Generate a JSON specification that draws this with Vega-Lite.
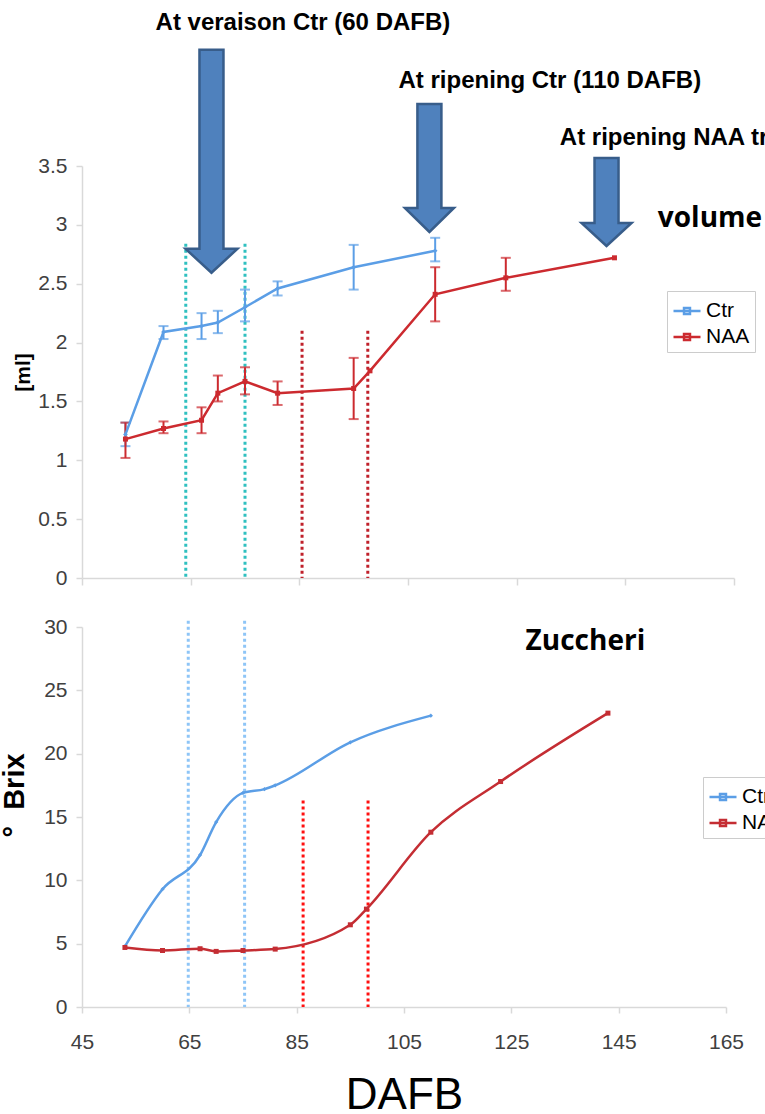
{
  "$schema": "https://vega.github.io/schema/vega-lite/v6.json",
  "background": "white",
  "padding": {"left": 0, "top": 10, "right": 0, "bottom": 0},
  "config": {
    "view": {"stroke": null},
    "font": "Liberation Sans",
    "axis": {"grid": false, "domainColor": "#d9d9d9", "domainWidth": 1.5, "tickColor": "#d9d9d9", "tickWidth": 1.5, "tickSize": 6, "labelColor": "#404040", "labelFont": "Liberation Sans", "labelFontSize": 21, "labelFlush": false, "titleColor": "#000000", "titleFont": "Liberation Sans"}
  },
  "datasets": {
    "vol": [
      {"DAFB": 53, "series": "Ctr", "value": 1.22, "lo": 1.12, "hi": 1.32},
      {"DAFB": 60, "series": "Ctr", "value": 2.09, "lo": 2.03, "hi": 2.14},
      {"DAFB": 67, "series": "Ctr", "value": 2.14, "lo": 2.03, "hi": 2.25},
      {"DAFB": 70, "series": "Ctr", "value": 2.17, "lo": 2.08, "hi": 2.27},
      {"DAFB": 75, "series": "Ctr", "value": 2.30, "lo": 2.18, "hi": 2.45},
      {"DAFB": 81, "series": "Ctr", "value": 2.46, "lo": 2.40, "hi": 2.52},
      {"DAFB": 95, "series": "Ctr", "value": 2.64, "lo": 2.45, "hi": 2.83},
      {"DAFB": 110, "series": "Ctr", "value": 2.78, "lo": 2.69, "hi": 2.89},
      {"DAFB": 53, "series": "NAA", "value": 1.18, "lo": 1.02, "hi": 1.32},
      {"DAFB": 60, "series": "NAA", "value": 1.27, "lo": 1.23, "hi": 1.33},
      {"DAFB": 67, "series": "NAA", "value": 1.34, "lo": 1.23, "hi": 1.45},
      {"DAFB": 70, "series": "NAA", "value": 1.57, "lo": 1.50, "hi": 1.72},
      {"DAFB": 75, "series": "NAA", "value": 1.67, "lo": 1.56, "hi": 1.79},
      {"DAFB": 81, "series": "NAA", "value": 1.57, "lo": 1.47, "hi": 1.67},
      {"DAFB": 95, "series": "NAA", "value": 1.61, "lo": 1.35, "hi": 1.87},
      {"DAFB": 98, "series": "NAA", "value": 1.76},
      {"DAFB": 110, "series": "NAA", "value": 2.41, "lo": 2.18, "hi": 2.64},
      {"DAFB": 123, "series": "NAA", "value": 2.55, "lo": 2.44, "hi": 2.72},
      {"DAFB": 143, "series": "NAA", "value": 2.72}
    ],
    "brix": [
      {"DAFB": 53, "series": "Ctr", "value": 4.78},
      {"DAFB": 60, "series": "Ctr", "value": 9.3},
      {"DAFB": 67, "series": "Ctr", "value": 12.0},
      {"DAFB": 70, "series": "Ctr", "value": 14.6},
      {"DAFB": 75, "series": "Ctr", "value": 16.9},
      {"DAFB": 79, "series": "Ctr", "value": 17.2},
      {"DAFB": 81, "series": "Ctr", "value": 17.5},
      {"DAFB": 95, "series": "Ctr", "value": 20.9},
      {"DAFB": 110, "series": "Ctr", "value": 23.0},
      {"DAFB": 53, "series": "NAA", "value": 4.7},
      {"DAFB": 60, "series": "NAA", "value": 4.46},
      {"DAFB": 67, "series": "NAA", "value": 4.6},
      {"DAFB": 70, "series": "NAA", "value": 4.39},
      {"DAFB": 75, "series": "NAA", "value": 4.46},
      {"DAFB": 81, "series": "NAA", "value": 4.57},
      {"DAFB": 95, "series": "NAA", "value": 6.49},
      {"DAFB": 98, "series": "NAA", "value": 7.73},
      {"DAFB": 110, "series": "NAA", "value": 13.8},
      {"DAFB": 123, "series": "NAA", "value": 17.8},
      {"DAFB": 143, "series": "NAA", "value": 23.2}
    ],
    "vtop": [
      {"DAFB": 64.1, "value": 2.84, "phase": "Ctr"},
      {"DAFB": 75.0, "value": 2.84, "phase": "Ctr"},
      {"DAFB": 85.5, "value": 2.1, "phase": "NAA"},
      {"DAFB": 97.6, "value": 2.1, "phase": "NAA"}
    ],
    "vbot": [
      {"DAFB": 64.8, "value": 30.5, "phase": "Ctr"},
      {"DAFB": 75.3, "value": 30.5, "phase": "Ctr"},
      {"DAFB": 86.2, "value": 16.3, "phase": "NAA"},
      {"DAFB": 98.3, "value": 16.3, "phase": "NAA"}
    ],
    "arrows": [
      {"arrow": "veraison", "DAFB": 68.83, "value": 2.593},
      {"arrow": "ripeCtr", "DAFB": 108.94, "value": 2.940},
      {"arrow": "ripeNAA", "DAFB": 141.54, "value": 2.821}
    ],
    "notes_top": [
      {"label": "At veraison Ctr (60 DAFB)", "DAFB": 85.66, "value": 4.715, "kind": "center"},
      {"label": "At ripening Ctr (110 DAFB)", "DAFB": 131.1, "value": 4.223, "kind": "center"},
      {"label": "At ripening NAA treated (145 DAFB)", "DAFB": 132.95, "value": 3.738, "kind": "left"},
      {"label": "volume", "DAFB": 150.98, "value": 3.05, "kind": "title"}
    ],
    "notes_bot": [
      {"label": "Zuccheri", "DAFB": 138.8, "value": 28.8}
    ]
  },
  "spacing": 28,
  "resolve": {
    "scale": {"x": "independent", "y": "independent", "color": "independent"},
    "legend": {"color": "independent"}
  },
  "vconcat": [
    {
      "width": 652,
      "height": 412,
      "encoding": {
        "x": {"field": "DAFB", "type": "quantitative", "scale": {"domain": [45, 165], "nice": false, "zero": false}, "axis": {"values": [45, 65, 85, 105, 125, 145, 165], "labels": false, "title": null, "tickSize": 7}},
        "y": {"field": "value", "type": "quantitative", "scale": {"domain": [0, 3.5], "nice": false, "zero": true}, "axis": {"values": [0, 0.5, 1, 1.5, 2, 2.5, 3, 3.5], "format": "~f", "title": "[ml]", "titleFontSize": 21, "titleFontWeight": "bold", "titlePadding": 4, "labelPadding": 9}}
      },
      "layer": [
        {
          "data": {"name": "vtop"},
          "transform": [{"filter": "datum.phase == 'Ctr'"}],
          "mark": {"type": "rule", "color": "#2fc0c0", "strokeWidth": 3, "strokeDash": [3, 3]},
          "encoding": {"y2": {"datum": 0}}
        },
        {
          "data": {"name": "vtop"},
          "transform": [{"filter": "datum.phase == 'NAA'"}],
          "mark": {"type": "rule", "color": "#c0202a", "strokeWidth": 3, "strokeDash": [3, 3]},
          "encoding": {"y2": {"datum": 0}}
        },
        {
          "data": {"name": "vol"},
          "transform": [{"filter": "isValid(datum.lo) && datum.series == 'Ctr'"}],
          "mark": {"type": "errorbar", "ticks": true, "thickness": 2, "size": 10, "color": "#5b9ee6"},
          "encoding": {
            "y": {"field": "lo", "type": "quantitative", "scale": {"domain": [0, 3.5], "nice": false, "zero": true}, "axis": {"values": [0, 0.5, 1, 1.5, 2, 2.5, 3, 3.5], "format": "~f", "title": "[ml]", "titleFontSize": 21, "titleFontWeight": "bold", "titlePadding": 4, "labelPadding": 9}},
            "y2": {"field": "hi"}
          }
        },
        {
          "data": {"name": "vol"},
          "transform": [{"filter": "isValid(datum.lo) && datum.series == 'NAA'"}],
          "mark": {"type": "errorbar", "ticks": true, "thickness": 2, "size": 10, "color": "#cc2a2f"},
          "encoding": {
            "y": {"field": "lo", "type": "quantitative", "scale": {"domain": [0, 3.5], "nice": false, "zero": true}, "axis": {"values": [0, 0.5, 1, 1.5, 2, 2.5, 3, 3.5], "format": "~f", "title": "[ml]", "titleFontSize": 21, "titleFontWeight": "bold", "titlePadding": 4, "labelPadding": 9}},
            "y2": {"field": "hi"}
          }
        },
        {
          "data": {"name": "vol"},
          "mark": {"type": "line", "strokeWidth": 2.5},
          "encoding": {
            "color": {"field": "series", "type": "nominal", "scale": {"domain": ["Ctr", "NAA"], "range": ["#5b9ee6", "#cc2a2f"]},
              "legend": {"orient": "none", "legendX": 585, "legendY": 125, "title": null, "symbolType": "M -1 0 L 1 0 M -0.22 -0.22 L 0.22 -0.22 L 0.22 0.22 L -0.22 0.22 Z", "symbolSize": 729, "symbolStrokeWidth": 2.5, "labelFontSize": 21, "labelFont": "Liberation Sans", "labelColor": "#000000", "strokeColor": "#cccccc", "fillColor": "#ffffff", "padding": 5, "rowPadding": 1, "labelOffset": 4}}
          }
        },
        {
          "data": {"name": "vol"},
          "transform": [{"filter": "datum.series == 'Ctr'"}],
          "mark": {"type": "point", "filled": true, "opacity": 1, "size": 22, "shape": "diamond", "color": "#5b9ee6"}
        },
        {
          "data": {"name": "vol"},
          "transform": [{"filter": "datum.series == 'NAA'"}],
          "mark": {"type": "point", "filled": true, "opacity": 1, "size": 25, "shape": "square", "color": "#cc2a2f"}
        },
        {
          "data": {"name": "arrows"},
          "transform": [{"filter": "datum.arrow == 'veraison'"}],
          "mark": {"type": "point", "shape": "M -1.2 -22.3 L 1.2 -22.3 L 1.2 -2.4 L 2.6 -2.4 L 0 0 L -2.6 -2.4 L -1.2 -2.4 Z", "size": 400, "filled": true, "fill": "#4f81bd", "stroke": "#385d8a", "strokeWidth": 2.5, "opacity": 1}
        },
        {
          "data": {"name": "arrows"},
          "transform": [{"filter": "datum.arrow == 'ripeCtr'"}],
          "mark": {"type": "point", "shape": "M -1.2 -12.8 L 1.2 -12.8 L 1.2 -2.4 L 2.45 -2.4 L 0 0 L -2.45 -2.4 L -1.2 -2.4 Z", "size": 400, "filled": true, "fill": "#4f81bd", "stroke": "#385d8a", "strokeWidth": 2.5, "opacity": 1}
        },
        {
          "data": {"name": "arrows"},
          "transform": [{"filter": "datum.arrow == 'ripeNAA'"}],
          "mark": {"type": "point", "shape": "M -1.2 -8.8 L 1.2 -8.8 L 1.2 -2.3 L 2.5 -2.3 L 0 0 L -2.5 -2.3 L -1.2 -2.3 Z", "size": 400, "filled": true, "fill": "#4f81bd", "stroke": "#385d8a", "strokeWidth": 2.5, "opacity": 1}
        },
        {
          "data": {"name": "notes_top"},
          "transform": [{"filter": "datum.kind == 'center'"}],
          "mark": {"type": "text", "font": "Liberation Sans", "fontWeight": "bold", "fontSize": 24, "align": "center", "baseline": "middle", "color": "#000000"},
          "encoding": {"text": {"field": "label"}}
        },
        {
          "data": {"name": "notes_top"},
          "transform": [{"filter": "datum.kind == 'left'"}],
          "mark": {"type": "text", "font": "Liberation Sans", "fontWeight": "bold", "fontSize": 24, "align": "left", "baseline": "middle", "color": "#000000", "limit": 210, "ellipsis": "\u200b"},
          "encoding": {"text": {"field": "label"}}
        },
        {
          "data": {"name": "notes_top"},
          "transform": [{"filter": "datum.kind == 'title'"}],
          "mark": {"type": "text", "font": "Open Sans", "fontWeight": "bold", "fontSize": 28, "align": "left", "baseline": "middle", "color": "#000000"},
          "encoding": {"text": {"field": "label"}}
        }
      ]
    },
    {
      "width": 644,
      "height": 380,
      "encoding": {
        "x": {"field": "DAFB", "type": "quantitative", "scale": {"domain": [45, 165], "nice": false, "zero": false}, "axis": {"values": [45, 65, 85, 105, 125, 145, 165], "title": "DAFB", "titleFontSize": 44, "titleFontWeight": "normal", "titlePadding": 21, "labelPadding": 18, "tickSize": 6}},
        "y": {"field": "value", "type": "quantitative", "scale": {"domain": [0, 30], "nice": false, "zero": true}, "axis": {"values": [0, 5, 10, 15, 20, 25, 30], "title": "°\u00a0\u00a0Brix", "titleFontSize": 29, "titleFontWeight": "bold", "titlePadding": 14, "titleY": 168, "labelPadding": 9}}
      },
      "layer": [
        {
          "data": {"name": "vbot"},
          "transform": [{"filter": "datum.phase == 'Ctr'"}],
          "mark": {"type": "rule", "color": "#8ec5f7", "strokeWidth": 3, "strokeDash": [3, 3]},
          "encoding": {"y2": {"datum": 0}}
        },
        {
          "data": {"name": "vbot"},
          "transform": [{"filter": "datum.phase == 'NAA'"}],
          "mark": {"type": "rule", "color": "#ff1010", "strokeWidth": 3, "strokeDash": [3, 3]},
          "encoding": {"y2": {"datum": 0}}
        },
        {
          "data": {"name": "brix"},
          "mark": {"type": "line", "strokeWidth": 2.5, "interpolate": "monotone"},
          "encoding": {
            "color": {"field": "series", "type": "nominal", "scale": {"domain": ["Ctr", "NAA"], "range": ["#5b9ee6", "#c42d33"]},
              "legend": {"orient": "none", "legendX": 621, "legendY": 150, "title": null, "symbolType": "M -1 0 L 1 0 M -0.22 -0.22 L 0.22 -0.22 L 0.22 0.22 L -0.22 0.22 Z", "symbolSize": 729, "symbolStrokeWidth": 2.5, "labelFontSize": 21, "labelFont": "Liberation Sans", "labelColor": "#000000", "strokeColor": "#cccccc", "fillColor": "#ffffff", "padding": 5, "rowPadding": 1, "labelOffset": 4}}
          }
        },
        {
          "data": {"name": "brix"},
          "transform": [{"filter": "datum.series == 'Ctr'"}],
          "mark": {"type": "point", "filled": true, "opacity": 1, "size": 18, "shape": "diamond", "color": "#5b9ee6"}
        },
        {
          "data": {"name": "brix"},
          "transform": [{"filter": "datum.series == 'NAA'"}],
          "mark": {"type": "point", "filled": true, "opacity": 1, "size": 25, "shape": "square", "color": "#c42d33"}
        },
        {
          "data": {"name": "notes_bot"},
          "mark": {"type": "text", "font": "Open Sans", "fontWeight": "bold", "fontSize": 28, "align": "center", "baseline": "middle", "color": "#000000"},
          "encoding": {"text": {"field": "label"}}
        }
      ]
    }
  ]
}
